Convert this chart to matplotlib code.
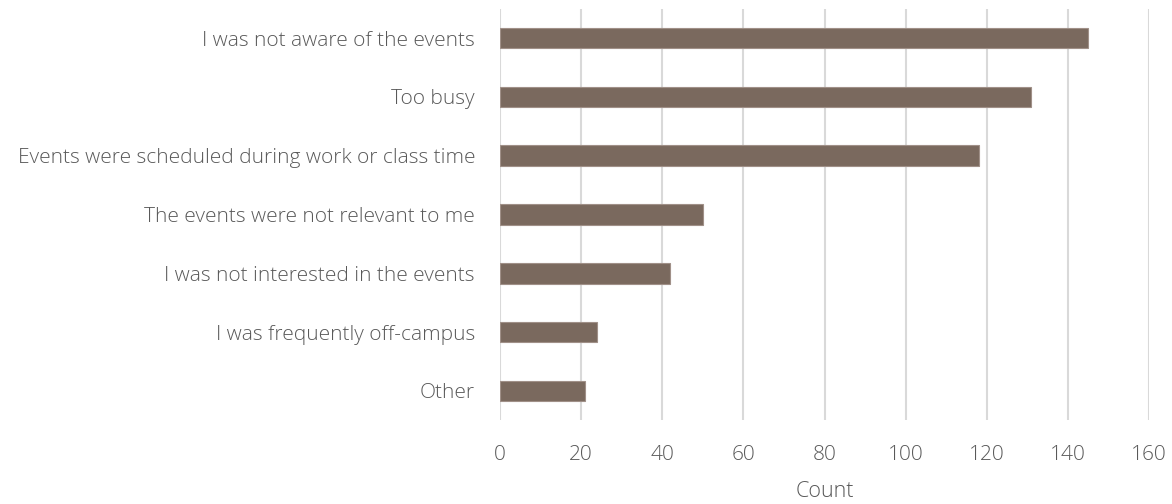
import matplotlib
matplotlib.use("Agg")
import matplotlib.pyplot as plt

categories = [
    "I was not aware of the events",
    "Too busy",
    "Events were scheduled during work or class time",
    "The events were not relevant to me",
    "I was not interested in the events",
    "I was frequently off-campus",
    "Other",
]
counts = [145, 131, 118, 50, 42, 24, 21]
xticks = [0, 20, 40, 60, 80, 100, 120, 140, 160]

plt.rcParams['font.family'] = ['Open Sans', 'DejaVu Sans']
text_color = "#595959"

fig = plt.figure(figsize=(11.72, 5.04), dpi=100)
ax = fig.add_axes([500/1172, 1 - 420.4/504, (1149-500)/1172, (420.4-8.6)/504])

y = list(range(len(categories)))
ax.barh(y, counts, height=0.35, color="#7A695E", edgecolor="#A09088", linewidth=0.8, zorder=3)
ax.set_ylim(len(categories) - 0.5, -0.5)
ax.set_xlim(0, 160)
ax.set_yticks(y)
ax.set_yticklabels(categories, fontsize=15, color=text_color, fontweight='light')
ax.set_xticks(xticks)
ax.set_xticklabels([str(t) for t in xticks], fontsize=15, color=text_color, fontweight='light')
ax.tick_params(axis='both', length=0)
ax.tick_params(axis='y', pad=18)
ax.tick_params(axis='x', pad=18)
for s in ax.spines.values():
    s.set_visible(False)
ax.grid(axis='x', color="#D9D9D9", linewidth=1.5, zorder=0)
ax.set_xlabel("Count", fontsize=15.5, color=text_color, fontweight='light', labelpad=11)

fig.savefig("out.png", dpi=100)
